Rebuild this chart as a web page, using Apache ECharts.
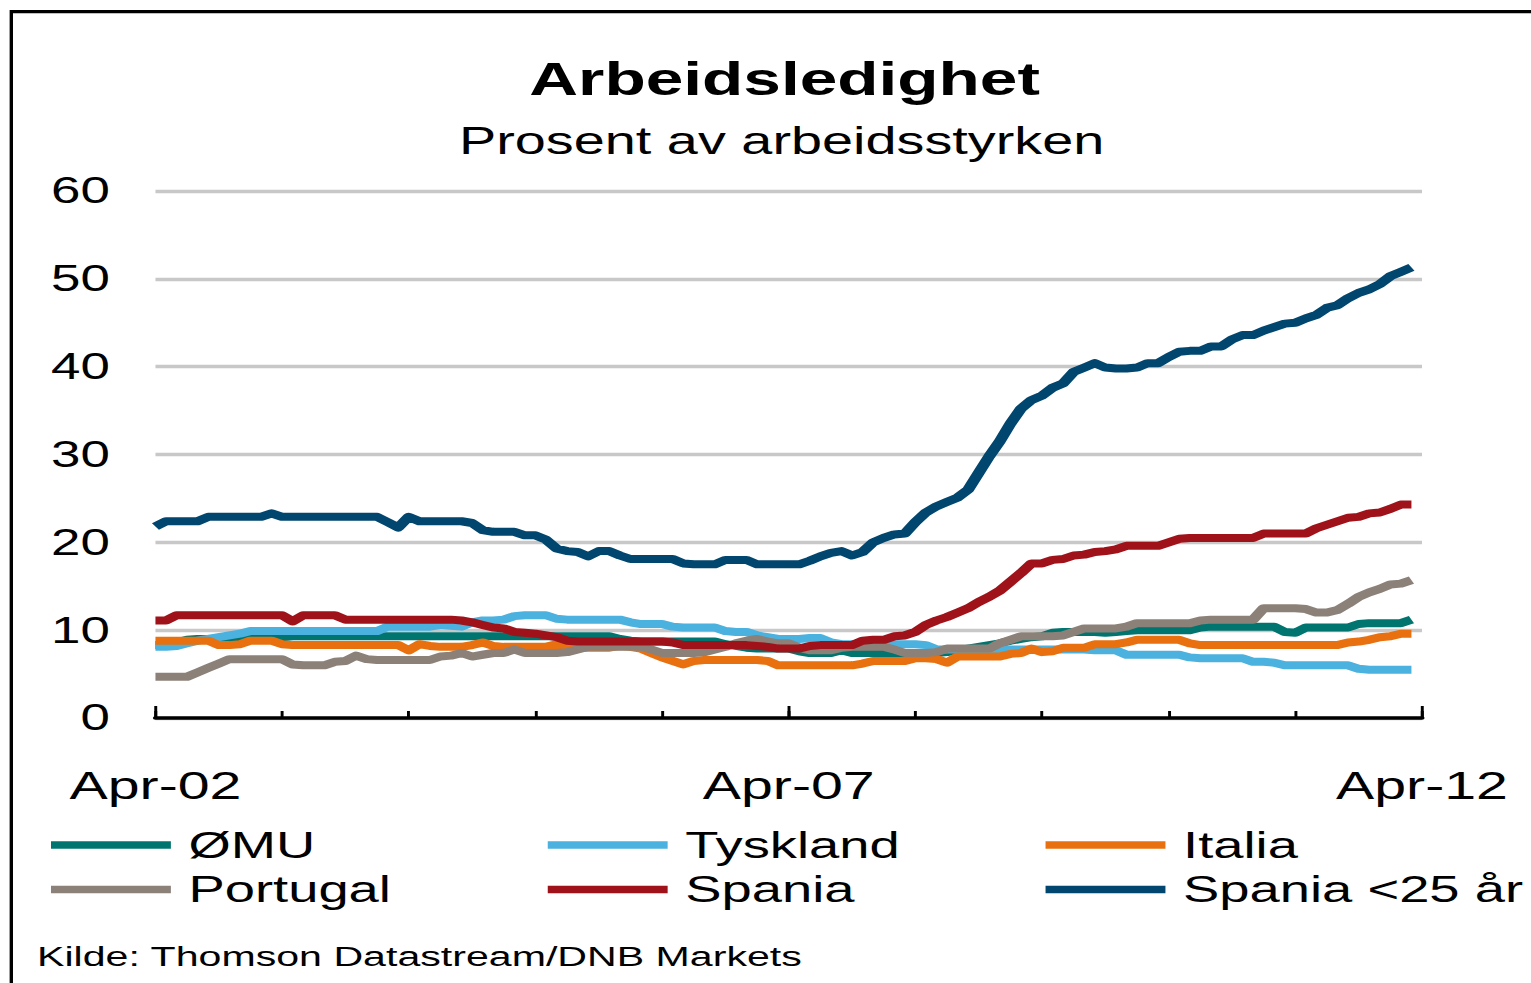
<!DOCTYPE html>
<html>
<head>
<meta charset="utf-8">
<title>Arbeidsledighet</title>
<script src="https://cdn.jsdelivr.net/npm/echarts@6/dist/echarts.min.js"></script>
<style>
  html, body { margin: 0; padding: 0; background: #fff; overflow: hidden; }
  /* the reference is a horizontally stretched picture, so the chart is drawn narrow and stretched */
  #chart {
    width: 1042px;
    height: 983px;
    transform: scaleX(1.4693);
    transform-origin: 0 0;
  }
</style>
</head>
<body>
<div id="chart"></div>
<script>
const monthNames = ['Jan', 'Feb', 'Mar', 'Apr', 'Mai', 'Jun', 'Jul', 'Aug', 'Sep', 'Okt', 'Nov', 'Des']
// Apr-02 .. Apr-12, one category per month
const categories = []
for (let k = 0; k <= 120; k++) {
  const m = (3 + k) % 12
  const yy = 2 + Math.floor((3 + k) / 12)
  categories.push(monthNames[m] + '-' + String(yy).padStart(2, '0'))
}

const seriesNames = ['ØMU', 'Tyskland', 'Italia', 'Portugal', 'Spania', 'Spania <25 år']
const seriesColors = ['#00746F', '#4BB1DF', '#E8700F', '#8C8178', '#A0121A', '#00466E']

const omu = [
  8.3, 8.3, 8.6, 8.9, 9.0, 9.0, 9.0, 9.0, 9.0, 9.0,
  9.2, 9.2, 9.2, 9.3, 9.3, 9.3, 9.3, 9.3, 9.3, 9.3,
  9.3, 9.3, 9.3, 9.3, 9.3, 9.3, 9.3, 9.3, 9.3, 9.3,
  9.3, 9.3, 9.3, 9.3, 9.3, 9.3, 9.3, 9.3, 9.3, 9.3,
  9.3, 9.3, 9.3, 9.3, 9.0, 8.8, 8.7, 8.7, 8.7, 8.7,
  8.7, 8.7, 8.7, 8.7, 8.4, 8.2, 8.0, 7.9, 7.9, 7.9,
  7.9, 7.6, 7.4, 7.4, 7.4, 7.7, 7.4, 7.4, 7.4, 7.4,
  7.4, 7.4, 7.4, 7.4, 7.4, 7.5, 7.7, 7.9, 8.1, 8.3,
  8.5, 8.8, 9.0, 9.2, 9.3, 9.7, 9.8, 9.8, 9.8, 9.8,
  9.7, 9.8, 9.9, 10.0, 10.0, 10.0, 10.0, 10.0, 10.0, 10.3,
  10.4, 10.4, 10.4, 10.4, 10.4, 10.4, 10.4, 9.8, 9.7, 10.3,
  10.3, 10.3, 10.3, 10.3, 10.7, 10.8, 10.8, 10.8, 10.8, 11.2
]
const tyskland = [
  8.1, 8.1, 8.2, 8.5, 8.8, 9.0, 9.2, 9.4, 9.6, 9.9,
  9.9, 9.9, 9.9, 9.9, 9.9, 9.9, 9.9, 9.9, 9.9, 9.9,
  9.9, 9.9, 10.4, 10.4, 10.4, 10.4, 10.4, 10.6, 10.5, 10.4,
  10.9, 11.1, 11.1, 11.2, 11.6, 11.7, 11.7, 11.7, 11.3, 11.2,
  11.2, 11.2, 11.2, 11.2, 11.2, 10.9, 10.7, 10.7, 10.7, 10.4,
  10.3, 10.3, 10.3, 10.3, 9.9, 9.8, 9.8, 9.4, 9.2, 9.0,
  9.0, 9.0, 9.1, 9.1, 8.6, 8.4, 8.4, 8.4, 8.4, 8.4,
  8.4, 8.4, 8.4, 8.3, 7.8, 7.8, 7.8, 7.8, 7.8, 7.8,
  7.8, 7.8, 7.8, 7.8, 7.8, 7.8, 7.8, 7.8, 7.8, 7.7,
  7.7, 7.7, 7.2, 7.2, 7.2, 7.2, 7.2, 7.2, 6.9, 6.8,
  6.8, 6.8, 6.8, 6.8, 6.4, 6.4, 6.3, 6.0, 6.0, 6.0,
  6.0, 6.0, 6.0, 6.0, 5.6, 5.5, 5.5, 5.5, 5.5, 5.5
]
const italia = [
  8.8, 8.8, 8.8, 8.8, 8.8, 8.8, 8.3, 8.3, 8.4, 8.8,
  8.8, 8.8, 8.4, 8.3, 8.3, 8.3, 8.3, 8.3, 8.3, 8.3,
  8.3, 8.3, 8.3, 8.3, 7.7, 8.4, 8.2, 8.1, 8.1, 8.1,
  8.3, 8.6, 8.2, 8.1, 8.1, 8.1, 8.1, 8.1, 8.4, 8.0,
  8.0, 8.0, 8.0, 8.0, 8.2, 8.1, 7.9, 7.4, 6.9, 6.5,
  6.1, 6.5, 6.6, 6.6, 6.6, 6.6, 6.6, 6.6, 6.5, 6.0,
  6.0, 6.0, 6.0, 6.0, 6.0, 6.0, 6.0, 6.2, 6.5, 6.5,
  6.5, 6.5, 6.8, 6.8, 6.7, 6.3, 7.0, 7.0, 7.0, 7.0,
  7.0, 7.3, 7.4, 7.9, 7.5, 7.6, 8.0, 8.0, 8.0, 8.4,
  8.4, 8.4, 8.6, 8.9, 8.9, 8.9, 8.9, 8.9, 8.5, 8.3,
  8.3, 8.3, 8.3, 8.3, 8.3, 8.3, 8.3, 8.3, 8.3, 8.3,
  8.3, 8.3, 8.3, 8.6, 8.7, 8.9, 9.2, 9.3, 9.6, 9.6
]
const portugal = [
  4.7, 4.7, 4.7, 4.7, 5.2, 5.7, 6.2, 6.7, 6.7, 6.7,
  6.7, 6.7, 6.7, 6.1, 6.0, 6.0, 6.0, 6.4, 6.5, 7.1,
  6.7, 6.6, 6.6, 6.6, 6.6, 6.6, 6.6, 7.0, 7.1, 7.4,
  7.0, 7.2, 7.4, 7.4, 7.8, 7.4, 7.4, 7.4, 7.4, 7.5,
  7.8, 8.1, 8.1, 8.1, 8.1, 8.1, 8.1, 7.8, 7.4, 7.4,
  7.4, 7.4, 7.5, 7.8, 8.1, 8.5, 8.8, 9.0, 8.7, 8.5,
  8.5, 8.0, 7.7, 7.7, 7.7, 8.0, 8.1, 8.1, 8.1, 8.1,
  7.8, 7.4, 7.4, 7.4, 7.5, 7.9, 7.9, 7.9, 7.9, 7.9,
  8.5, 8.9, 9.3, 9.3, 9.3, 9.3, 9.4, 9.8, 10.2, 10.2,
  10.2, 10.2, 10.4, 10.8, 10.8, 10.8, 10.8, 10.8, 10.8, 11.1,
  11.2, 11.2, 11.2, 11.2, 11.2, 12.5, 12.5, 12.5, 12.5, 12.4,
  12.0, 12.0, 12.3, 13.0, 13.8, 14.3, 14.7, 15.2, 15.3, 15.7
]
const spania = [
  11.1, 11.1, 11.7, 11.7, 11.7, 11.7, 11.7, 11.7, 11.7, 11.7,
  11.7, 11.7, 11.7, 11.0, 11.7, 11.7, 11.7, 11.7, 11.2, 11.2,
  11.2, 11.2, 11.2, 11.2, 11.2, 11.2, 11.2, 11.2, 11.2, 11.1,
  10.9, 10.6, 10.3, 10.2, 9.8, 9.7, 9.6, 9.4, 9.2, 8.8,
  8.7, 8.7, 8.7, 8.7, 8.7, 8.7, 8.7, 8.7, 8.7, 8.6,
  8.3, 8.3, 8.3, 8.3, 8.3, 8.3, 8.3, 8.2, 8.1, 7.9,
  7.9, 7.9, 8.2, 8.3, 8.3, 8.3, 8.3, 8.8, 8.9, 8.9,
  9.3, 9.4, 9.8, 10.6, 11.1, 11.5, 12.0, 12.5, 13.2, 13.8,
  14.5, 15.5, 16.5, 17.6, 17.6, 18.0, 18.1, 18.5, 18.6, 18.9,
  19.0, 19.2, 19.6, 19.6, 19.6, 19.6, 20.0, 20.4, 20.5, 20.5,
  20.5, 20.5, 20.5, 20.5, 20.5, 21.0, 21.0, 21.0, 21.0, 21.0,
  21.6, 22.0, 22.4, 22.8, 22.9, 23.3, 23.4, 23.8, 24.3, 24.3
]
const spaniaUnder25 = [
  21.8, 22.4, 22.4, 22.4, 22.4, 22.9, 22.9, 22.9, 22.9, 22.9,
  22.9, 23.3, 22.9, 22.9, 22.9, 22.9, 22.9, 22.9, 22.9, 22.9,
  22.9, 22.9, 22.3, 21.7, 22.9, 22.4, 22.4, 22.4, 22.4, 22.4,
  22.2, 21.4, 21.2, 21.2, 21.2, 20.8, 20.8, 20.3, 19.3, 19.0,
  18.9, 18.4, 19.0, 19.0, 18.5, 18.1, 18.1, 18.1, 18.1, 18.1,
  17.6, 17.5, 17.5, 17.5, 18.0, 18.0, 18.0, 17.5, 17.5, 17.5,
  17.5, 17.5, 17.9, 18.4, 18.8, 19.0, 18.5, 18.9, 20.0, 20.5,
  20.9, 21.0, 22.3, 23.4, 24.1, 24.6, 25.1, 26.0, 27.9, 29.8,
  31.5, 33.5, 35.2, 36.2, 36.7, 37.6, 38.1, 39.4, 39.9, 40.4,
  39.9, 39.8, 39.8, 39.9, 40.4, 40.4, 41.1, 41.7, 41.8, 41.8,
  42.3, 42.3, 43.1, 43.6, 43.6, 44.1, 44.5, 44.9, 45.0, 45.5,
  45.9, 46.7, 47.0, 47.8, 48.4, 48.8, 49.4, 50.3, 50.8, 51.3
]
const seriesData = [omu, tyskland, italia, portugal, spania, spaniaUnder25]

const FONT = '"Liberation Sans", Arial, sans-serif'

const chart = echarts.init(document.getElementById('chart'), null, { renderer: 'svg' })

// legend: two rows of three, one legend per entry so the columns line up
const legendCols = [34.7, 372.8, 711.6]
const legendRows = [825, 869.5]
const legends = seriesNames.map((name, i) => ({
  data: [name],
  left: legendCols[i % 3],
  top: legendRows[Math.floor(i / 3)],
  padding: 0,
  icon: 'rect',
  itemWidth: 81.6,
  itemHeight: 7.5,
  selectedMode: false,
  textStyle: {
    fontFamily: FONT,
    fontSize: 37,
    lineHeight: 40,
    color: '#000',
    padding: [0, 0, 0, 7]
  }
}))

const option = {
  animation: false,
  backgroundColor: '#fff',
  grid: { left: 105.8, right: 74.2, top: 191, bottom: 265, containLabel: false },
  legend: legends,
  xAxis: [
    {
      type: 'category',
      data: categories,
      boundaryGap: false,
      axisLine: { lineStyle: { color: '#000', width: 3.5 } },
      axisTick: { inside: true, length: 7, interval: 11, lineStyle: { color: '#000', width: 2 } },
      axisLabel: { interval: 59, margin: 48, color: '#000', fontFamily: FONT, fontSize: 39 },
      splitLine: { show: false }
    },
    {
      type: 'category',
      data: categories,
      boundaryGap: false,
      position: 'bottom',
      axisLine: { show: false },
      axisTick: { inside: true, length: 12, interval: 59, lineStyle: { color: '#000', width: 2 } },
      axisLabel: { show: false },
      splitLine: { show: false }
    }
  ],
  yAxis: {
    type: 'value',
    min: 0,
    max: 60,
    interval: 10,
    axisLine: { show: false },
    axisTick: { show: false },
    axisLabel: { margin: 31, color: '#000', fontFamily: FONT, fontSize: 36 },
    splitLine: { lineStyle: { color: '#C8C8C8', width: 3.3 } }
  },
  series: seriesNames.map((name, i) => ({
    name: name,
    type: 'line',
    data: seriesData[i],
    xAxisIndex: 0,
    color: seriesColors[i],
    symbol: 'none',
    showSymbol: false,
    lineStyle: { width: 8, color: seriesColors[i], join: 'round' }
  })),
  graphic: [
    { type: 'line', shape: { x1: 7.7, y1: 11.7, x2: 1042, y2: 11.7 }, style: { stroke: '#000', lineWidth: 3.3 } },
    { type: 'line', shape: { x1: 7.7, y1: 10, x2: 7.7, y2: 983 }, style: { stroke: '#000', lineWidth: 2.3 } },
    {
      type: 'text', x: 534, y: 79,
      style: { text: 'Arbeidsledighet', fontFamily: FONT, fontWeight: 'bold', fontSize: 46, fill: '#000', align: 'center', verticalAlign: 'middle' }
    },
    {
      type: 'text', x: 532, y: 141,
      style: { text: 'Prosent av arbeidsstyrken', fontFamily: FONT, fontSize: 38, fill: '#000', align: 'center', verticalAlign: 'middle' }
    },
    {
      type: 'text', x: 25.2, y: 956,
      style: { text: 'Kilde: Thomson Datastream/DNB Markets', fontFamily: FONT, fontSize: 28, fill: '#000', align: 'left', verticalAlign: 'middle' }
    }
  ]
}

chart.setOption(option)
</script>
</body>
</html>
